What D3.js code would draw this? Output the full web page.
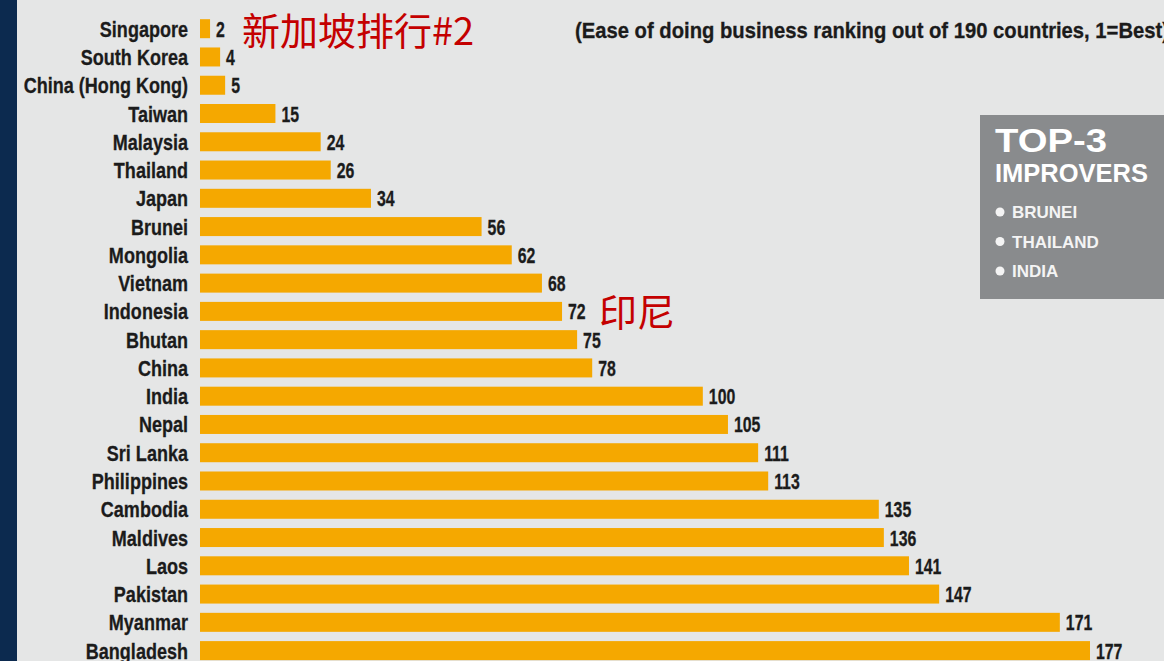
<!DOCTYPE html>
<html>
<head>
<meta charset="utf-8">
<script src="https://cdn.jsdelivr.net/npm/d3@7"></script>
<style>
  html, body { margin: 0; padding: 0; background: #e5e6e6; overflow: hidden; }
  .lbl { font-family: "Liberation Sans", Arial, sans-serif; font-weight: bold; fill: #1b1b1b; font-size: 22px;
         stroke: #1b1b1b; stroke-width: 0.3px; }
  .box { font-family: "Liberation Sans", Arial, sans-serif; font-weight: bold; }
</style>
</head>
<body>
<div id="chart"></div>
<script>
const countries = ["Singapore", "South Korea", "China (Hong Kong)", "Taiwan", "Malaysia", "Thailand",
    "Japan", "Brunei", "Mongolia", "Vietnam", "Indonesia", "Bhutan", "China", "India", "Nepal",
    "Sri Lanka", "Philippines", "Cambodia", "Maldives", "Laos", "Pakistan", "Myanmar", "Bangladesh"];
const ranks = [2, 4, 5, 15, 24, 26, 34, 56, 62, 68, 72, 75, 78, 100, 105, 111, 113, 135, 136, 141, 147, 171, 177];
const improvers = ["BRUNEI", "THAILAND", "INDIA"];
const subtitle = "(Ease of doing business ranking out of 190 countries, 1=Best)";

const width = 1164;
const height = 661;

const svg = d3.select("#chart").append("svg")
    .attr("width", width)
    .attr("height", height);

svg.append("rect").attr("width", width).attr("height", height).attr("fill", "#e5e6e6");
// dark strip on the left
svg.append("rect").attr("width", 17).attr("height", height).attr("fill", "#0c2a4f");

const x = d3.scaleLinear().domain([0, 177]).range([200, 1090]);
const y = d3.scalePoint().domain(countries).range([28.7, 650.6]);
const barH = 19;

const rows = svg.append("g").selectAll("g")
    .data(countries.map((c, i) => ({ name: c, rank: ranks[i] })))
    .enter().append("g");

rows.append("rect")
    .attr("x", x(0))
    .attr("y", d => y(d.name) - barH / 2)
    .attr("width", d => x(d.rank) - x(0))
    .attr("height", barH)
    .attr("fill", "#f5a800");

// condensed look: squeeze the glyphs horizontally
rows.append("text")
    .attr("class", "lbl")
    .attr("transform", d => `translate(188,${y(d.name) + 8}) scale(0.82,1)`)
    .attr("text-anchor", "end")
    .text(d => d.name);

rows.append("text")
    .attr("class", "lbl")
    .attr("transform", d => `translate(${x(d.rank) + 6},${y(d.name) + 8}) scale(0.72,1)`)
    .text(d => d.rank);

svg.append("text")
    .attr("class", "lbl")
    .attr("x", 575)
    .attr("y", 38)
    .attr("textLength", 594)
    .attr("lengthAdjust", "spacingAndGlyphs")
    .text(subtitle);

// top-3 box
const box = svg.append("g").attr("class", "box");
box.append("rect")
    .attr("x", 980).attr("y", 115)
    .attr("width", 200).attr("height", 184)
    .attr("fill", "#898b8d");
box.append("text")
    .attr("x", 995).attr("y", 152)
    .attr("fill", "#ffffff")
    .style("font-size", "33px")
    .attr("textLength", 112)
    .attr("lengthAdjust", "spacingAndGlyphs")
    .text("TOP-3");
box.append("text")
    .attr("x", 995).attr("y", 182)
    .attr("fill", "#ffffff")
    .style("font-size", "25px")
    .attr("textLength", 153)
    .attr("lengthAdjust", "spacingAndGlyphs")
    .text("IMPROVERS");
const items = box.selectAll("g.item").data(improvers).enter().append("g");
items.append("circle")
    .attr("cx", 1000)
    .attr("cy", (d, i) => 212 + i * 29.5)
    .attr("r", 4.5)
    .attr("fill", "#f4f4f4");
items.append("text")
    .attr("x", 1012)
    .attr("y", (d, i) => 218 + i * 29.5)
    .attr("fill", "#f4f4f4")
    .style("font-size", "17px")
    .text(d => d);

// red annotations
const note = svg.append("g")
    .style("font-family", "'Noto Sans CJK SC', sans-serif")
    .style("font-size", "38px")
    .attr("fill", "#c40000");
note.append("text").attr("x", 242).attr("y", 45).text("新加坡排行#2");
note.append("text").attr("x", 599).attr("y", 326).text("印尼");
</script>
</body>
</html>
